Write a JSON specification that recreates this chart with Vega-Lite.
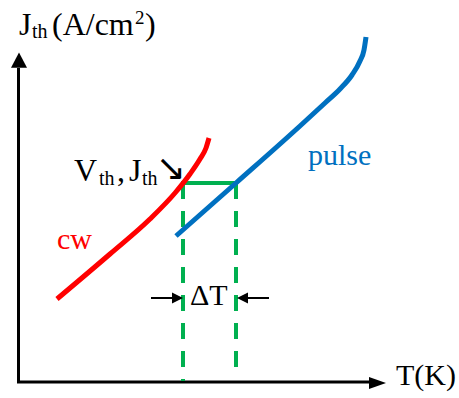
{
  "$schema": "https://vega.github.io/schema/vega-lite/v6.json",
  "width": 459,
  "height": 398,
  "autosize": {"type": "fit", "contains": "padding"},
  "padding": 0,
  "background": "white",
  "config": {"view": {"stroke": null}},
  "datasets": {
    "cw": [
      {"t": 57, "j": 99}, {"t": 110, "j": 144}, {"t": 150, "j": 179},
      {"t": 175, "j": 205}, {"t": 190, "j": 224}, {"t": 200, "j": 239},
      {"t": 206, "j": 250}, {"t": 209, "j": 260}
    ],
    "pulse": [
      {"t": 176, "j": 162}, {"t": 236, "j": 215}, {"t": 300, "j": 272},
      {"t": 325, "j": 295}, {"t": 340, "j": 309}, {"t": 352, "j": 323},
      {"t": 360, "j": 337}, {"t": 364, "j": 348}, {"t": 366, "j": 361}
    ]
  },
  "encoding": {
    "x": {"field": "t", "type": "quantitative", "axis": null,
          "scale": {"domain": [0, 459], "nice": false, "zero": false}},
    "y": {"field": "j", "type": "quantitative", "axis": null,
          "scale": {"domain": [0, 398], "nice": false, "zero": false}}
  },
  "layer": [
    {
      "data": {"values": [{"t": 18.5, "j": 15, "j2": 330}]},
      "mark": {"type": "rule", "color": "black", "strokeWidth": 3},
      "encoding": {"y2": {"field": "j2"}}
    },
    {
      "data": {"values": [{"t": 17, "t2": 372, "j": 16}]},
      "mark": {"type": "rule", "color": "black", "strokeWidth": 3},
      "encoding": {"x2": {"field": "t2"}}
    },
    {
      "data": {"values": [{"t": 19, "j": 337.5}]},
      "mark": {"type": "point", "shape": "M0,-1L-1,0.9L1,0.9Z", "size": 256,
               "filled": true, "color": "black", "opacity": 1}
    },
    {
      "data": {"values": [{"t": 377.5, "j": 15}]},
      "mark": {"type": "point", "shape": "M1,0L-1,-0.72L-1,0.72Z", "size": 289,
               "filled": true, "color": "black", "opacity": 1}
    },
    {
      "data": {"values": [{"t": 183, "j": 215, "j2": 17}, {"t": 236, "j": 215, "j2": 23}]},
      "mark": {"type": "rule", "color": "#00B050", "strokeWidth": 4, "strokeDash": [16, 12]},
      "encoding": {"y2": {"field": "j2"}}
    },
    {
      "data": {"values": [{"t": 181, "t2": 238, "j": 215}]},
      "mark": {"type": "rule", "color": "#00B050", "strokeWidth": 4},
      "encoding": {"x2": {"field": "t2"}}
    },
    {
      "data": {"name": "cw"},
      "mark": {"type": "line", "color": "#FF0000", "strokeWidth": 5, "interpolate": "monotone"}
    },
    {
      "data": {"name": "pulse"},
      "mark": {"type": "line", "color": "#0070C0", "strokeWidth": 5, "interpolate": "monotone"}
    },
    {
      "data": {"values": [{"t": 151, "t2": 174, "j": 100}, {"t": 246, "t2": 269, "j": 100}]},
      "mark": {"type": "rule", "color": "black", "strokeWidth": 2},
      "encoding": {"x2": {"field": "t2"}}
    },
    {
      "data": {"values": [{"t": 177.5, "j": 100}]},
      "mark": {"type": "point", "shape": "M1,0L-1,-1L-1,1Z", "size": 121,
               "filled": true, "color": "black", "opacity": 1}
    },
    {
      "data": {"values": [{"t": 242.5, "j": 100}]},
      "mark": {"type": "point", "shape": "M-1,0L1,-1L1,1Z", "size": 121,
               "filled": true, "color": "black", "opacity": 1}
    },
    {
      "data": {"values": [
        {"t": 19, "j": 363, "txt": "J"},
        {"t": 52, "j": 363, "txt": "(A/cm"},
        {"t": 145, "j": 363, "txt": ")"},
        {"t": 74, "j": 217, "txt": "V"},
        {"t": 117, "j": 217, "txt": ","},
        {"t": 129, "j": 217, "txt": "J"}
      ]},
      "mark": {"type": "text", "font": "Liberation Serif", "fontSize": 32,
               "align": "left", "baseline": "alphabetic", "color": "black"},
      "encoding": {"text": {"field": "txt"}}
    },
    {
      "data": {"values": [
        {"t": 190, "j": 93, "txt": "ΔT"},
        {"t": 396, "j": 13, "txt": "T(K)"}
      ]},
      "mark": {"type": "text", "font": "Liberation Serif", "fontSize": 30,
               "align": "left", "baseline": "alphabetic", "color": "black"},
      "encoding": {"text": {"field": "txt"}}
    },
    {
      "data": {"values": [
        {"t": 32, "j": 360, "txt": "th"},
        {"t": 99, "j": 213, "txt": "th"},
        {"t": 142, "j": 213, "txt": "th"}
      ]},
      "mark": {"type": "text", "font": "Liberation Serif", "fontSize": 20,
               "align": "left", "baseline": "alphabetic", "color": "black"},
      "encoding": {"text": {"field": "txt"}}
    },
    {
      "data": {"values": [{"t": 135, "j": 374, "txt": "2"}]},
      "mark": {"type": "text", "font": "Liberation Serif", "fontSize": 19,
               "align": "left", "baseline": "alphabetic", "color": "black"},
      "encoding": {"text": {"field": "txt"}}
    },
    {
      "data": {"values": [{"t": 156, "j": 218, "txt": "↘"}]},
      "mark": {"type": "text", "font": "DejaVu Sans", "fontSize": 36,
               "align": "left", "baseline": "alphabetic", "color": "black"},
      "encoding": {"text": {"field": "txt"}}
    },
    {
      "data": {"values": [{"t": 308, "j": 233, "txt": "pulse"}]},
      "mark": {"type": "text", "font": "Liberation Serif", "fontSize": 30,
               "align": "left", "baseline": "alphabetic", "color": "#0070C0"},
      "encoding": {"text": {"field": "txt"}}
    },
    {
      "data": {"values": [{"t": 57, "j": 149, "txt": "cw"}]},
      "mark": {"type": "text", "font": "Liberation Serif", "fontSize": 30,
               "align": "left", "baseline": "alphabetic", "color": "#FF0000"},
      "encoding": {"text": {"field": "txt"}}
    }
  ]
}
